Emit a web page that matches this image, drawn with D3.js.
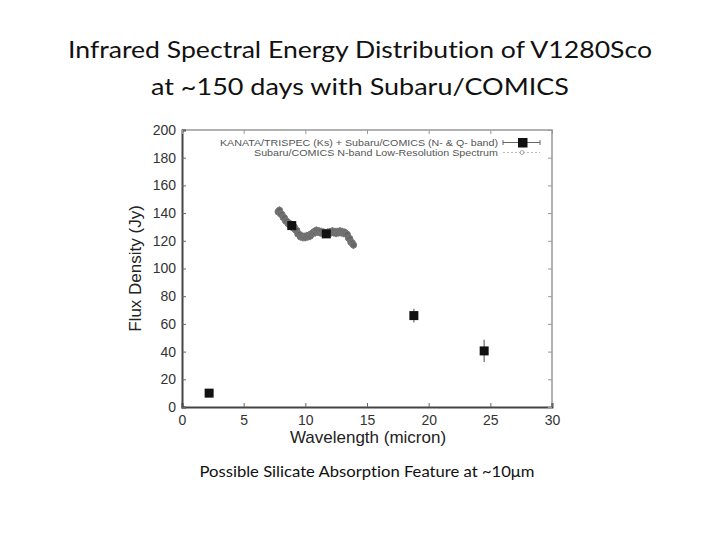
<!DOCTYPE html>
<html><head><meta charset="utf-8">
<script src="https://cdn.jsdelivr.net/npm/d3@7"></script>
<style>body{margin:0;background:#fff} text{font-variant-ligatures:none}</style>
</head><body>
<script>
const titleLines = ["Infrared Spectral Energy Distribution of V1280Sco", "at ~150 days with Subaru/COMICS"];
const caption = "Possible Silicate Absorption Feature at ~10\u03bcm";
const xTicks = [0,5,10,15,20,25,30];
const yTicks = [0,20,40,60,80,100,120,140,160,180,200];
// photometry: wavelength, flux, error
const photWl = [2.2, 8.9, 11.7, 18.8, 24.5];
const photFlux = [10, 131, 125, 66, 40.5];
const photErr = [1, 3, 3, 5, 8];
// spectrum
const specWl = [7.8,7.9,8.0,8.1,8.2,8.3,8.4,8.5,8.6,8.7,8.8,8.9,9.0,9.1,9.2,9.3,9.4,9.5,9.6,9.7,9.8,9.9,10.0,10.1,10.2,10.3,10.4,10.5,10.6,10.7,10.8,10.9,11.0,11.1,11.2,11.3,11.4,11.5,11.6,11.7,11.8,11.9,12.0,12.1,12.2,12.3,12.4,12.5,12.6,12.7,12.8,12.9,13.0,13.1,13.2,13.3,13.4,13.5,13.6,13.7,13.8,13.9];
const specFlux = [141,142,139.5,139,137,136.5,134.5,134,132.5,132.5,131,131.5,129.5,130,128,127.5,125,124.5,123,123.5,122.5,123,122.5,123.5,123,124,123.5,125,125.5,126.5,126,127.5,126.5,127,126,126.5,125.5,126,125,125.5,126,125.5,126.5,126,127,126,126.5,125.5,126.5,126,127,126,126.5,125.5,126,125,124.5,122,121.5,119,118.5,117];
const specErr = 3;
const legendLabels = ["KANATA/TRISPEC (Ks) + Subaru/COMICS (N- & Q- band)", "Subaru/COMICS N-band Low-Resolution Spectrum"];

const svg = d3.select("body").append("svg").attr("width",720).attr("height",540);
const x = d3.scaleLinear().domain([0,30]).range([182,552]);
const y = d3.scaleLinear().domain([0,200]).range([407,130]);

svg.selectAll("text.title").data(titleLines).enter().append("text")
  .attr("x",360).attr("y",(d,i)=>58+i*37).attr("text-anchor","middle")
  .attr("font-family","Lato, 'Open Sans', sans-serif").attr("font-size",24).attr("fill","#111")
  .attr("textLength",(d,i)=>i===0?584:418).attr("lengthAdjust","spacingAndGlyphs")
  .text(d=>d);

svg.append("text").attr("x",367).attr("y",477).attr("text-anchor","middle")
  .attr("font-family","Lato, 'Open Sans', sans-serif").attr("font-size",15).attr("fill","#111")
  .attr("textLength",335).attr("lengthAdjust","spacingAndGlyphs").text(caption);

// frame: top/right light
svg.append("path").attr("d",`M${x(0)},${y(200)}H${x(30)}V${y(0)}`).attr("fill","none").attr("stroke","#999").attr("stroke-width",1.5);
// axes
const gx = svg.append("g").attr("transform",`translate(0,${y(0)})`)
  .call(d3.axisBottom(x).tickValues(xTicks).tickSize(-4).tickPadding(8));
const gy = svg.append("g").attr("transform",`translate(${x(0)},0)`)
  .call(d3.axisLeft(y).tickValues(yTicks).tickSize(-4).tickPadding(6));
const gxt = svg.append("g").attr("transform",`translate(0,${y(200)})`)
  .call(d3.axisTop(x).tickValues(xTicks).tickSize(-4).tickFormat(""));
const gyr = svg.append("g").attr("transform",`translate(${x(30)},0)`)
  .call(d3.axisRight(y).tickValues(yTicks).tickSize(-4).tickFormat(""));
[gxt,gyr].forEach(g=>{g.select(".domain").remove(); g.selectAll(".tick line").attr("stroke","#999");});
[gx,gy].forEach(g=>{
  g.select(".domain").attr("stroke","#444").attr("stroke-width",2);
  g.selectAll(".tick line").attr("stroke","#666");
  g.selectAll(".tick text").attr("font-family","'Liberation Sans', Arial, sans-serif").attr("font-size",14).attr("fill","#333");
});

svg.append("text").attr("x",368).attr("y",443).attr("text-anchor","middle")
  .attr("font-family","'Liberation Sans', Arial, sans-serif").attr("font-size",17).attr("fill","#222")
  .text("Wavelength (micron)");
svg.append("text").attr("transform",`translate(141,${y(100)}) rotate(-90)`).attr("text-anchor","middle")
  .attr("font-family","'Liberation Sans', Arial, sans-serif").attr("font-size",17).attr("fill","#222")
  .text("Flux Density (Jy)");

// spectrum
const spec = specWl.map((w,i)=>({w, f:specFlux[i]}));
svg.append("g").selectAll("line").data(spec).enter().append("line")
  .attr("x1",d=>x(d.w)).attr("x2",d=>x(d.w)).attr("y1",d=>y(d.f-specErr)).attr("y2",d=>y(d.f+specErr))
  .attr("stroke","#999").attr("stroke-width",1.5);
svg.append("g").selectAll("circle").data(spec).enter().append("circle")
  .attr("cx",d=>x(d.w)).attr("cy",d=>y(d.f)).attr("r",3.2)
  .attr("fill","#666").attr("stroke","#777").attr("stroke-width",1);

// photometry
const phot = photWl.map((w,i)=>({w,f:photFlux[i],e:photErr[i]}));
svg.append("g").selectAll("line").data(phot).enter().append("line")
  .attr("x1",d=>x(d.w)).attr("x2",d=>x(d.w)).attr("y1",d=>y(d.f-d.e)).attr("y2",d=>y(d.f+d.e))
  .attr("stroke","#888").attr("stroke-width",1.5);
svg.append("g").selectAll("rect").data(phot).enter().append("rect")
  .attr("x",d=>x(d.w)-4.5).attr("y",d=>y(d.f)-4.5).attr("width",9).attr("height",9).attr("fill","#111");

// legend
const lg = svg.append("g");
lg.selectAll("text").data(legendLabels).enter().append("text")
  .attr("x",498).attr("y",(d,i)=>146+i*10).attr("text-anchor","end")
  .attr("font-family","'Liberation Sans', Arial, sans-serif").attr("font-size",9).attr("fill","#555")
  .attr("textLength",(d,i)=>i===0?278:244).attr("lengthAdjust","spacingAndGlyphs")
  .text(d=>d);
lg.append("line").attr("x1",503).attr("x2",540).attr("y1",142.5).attr("y2",142.5).attr("stroke","#666").attr("stroke-width",1);
lg.append("line").attr("x1",503).attr("x2",503).attr("y1",140).attr("y2",145).attr("stroke","#666");
lg.append("line").attr("x1",540).attr("x2",540).attr("y1",140).attr("y2",145).attr("stroke","#666");
lg.append("rect").attr("x",518).attr("y",138).attr("width",9.5).attr("height",9.5).attr("fill","#111");
lg.append("line").attr("x1",503).attr("x2",540).attr("y1",152.5).attr("y2",152.5).attr("stroke","#bbb").attr("stroke-dasharray","2,2");
lg.append("circle").attr("cx",522).attr("cy",152.5).attr("r",2).attr("fill","none").attr("stroke","#aaa");
</script>
</body></html>
